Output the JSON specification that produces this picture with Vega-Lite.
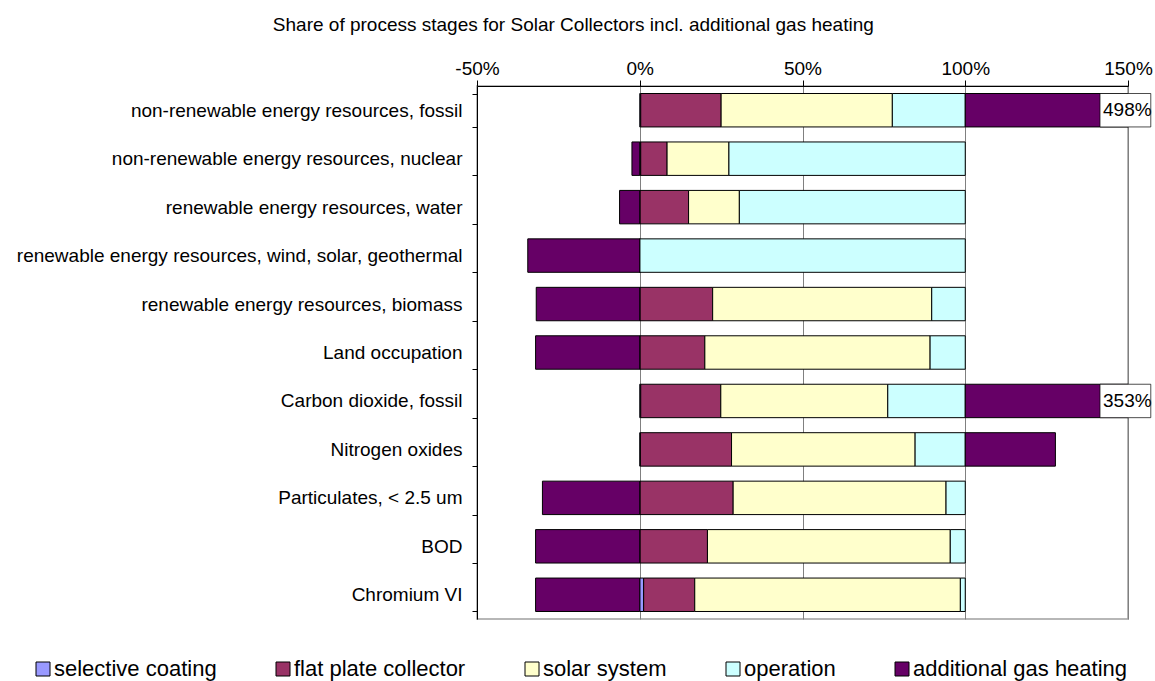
{
  "$schema": "https://vega.github.io/schema/vega-lite/v6.json",
  "autosize": "none",
  "width": 651,
  "height": 533,
  "padding": {"left": 477, "top": 86, "right": 27, "bottom": 62},
  "background": "white",
  "config": {
    "font": "Liberation Sans",
    "view": {"stroke": "#a0a0a0", "strokeWidth": 1.5}
  },
  "title": {
    "text": "Share of process stages for Solar Collectors incl. additional gas heating",
    "fontSize": 19,
    "fontWeight": "normal",
    "font": "Liberation Sans",
    "color": "black",
    "frame": "bounds",
    "anchor": "middle",
    "dx": -11,
    "offset": 24
  },
  "datasets": {
    "stages": [
      {"c": "non-renewable energy resources, fossil", "s": "selective coating", "i": 1, "v": 0.3},
      {"c": "non-renewable energy resources, fossil", "s": "flat plate collector", "i": 2, "v": 24.7},
      {"c": "non-renewable energy resources, fossil", "s": "solar system", "i": 3, "v": 52.6},
      {"c": "non-renewable energy resources, fossil", "s": "operation", "i": 4, "v": 22.4},
      {"c": "non-renewable energy resources, fossil", "s": "additional gas heating", "i": 5, "v": 498},
      {"c": "non-renewable energy resources, nuclear", "s": "selective coating", "i": 1, "v": 0.3},
      {"c": "non-renewable energy resources, nuclear", "s": "flat plate collector", "i": 2, "v": 8.1},
      {"c": "non-renewable energy resources, nuclear", "s": "solar system", "i": 3, "v": 19.0},
      {"c": "non-renewable energy resources, nuclear", "s": "operation", "i": 4, "v": 72.6},
      {"c": "non-renewable energy resources, nuclear", "s": "additional gas heating", "i": 5, "v": -2.4},
      {"c": "renewable energy resources, water", "s": "selective coating", "i": 1, "v": 0.1},
      {"c": "renewable energy resources, water", "s": "flat plate collector", "i": 2, "v": 14.9},
      {"c": "renewable energy resources, water", "s": "solar system", "i": 3, "v": 15.6},
      {"c": "renewable energy resources, water", "s": "operation", "i": 4, "v": 69.4},
      {"c": "renewable energy resources, water", "s": "additional gas heating", "i": 5, "v": -6.2},
      {"c": "renewable energy resources, wind, solar, geothermal", "s": "selective coating", "i": 1, "v": 0},
      {"c": "renewable energy resources, wind, solar, geothermal", "s": "flat plate collector", "i": 2, "v": 0},
      {"c": "renewable energy resources, wind, solar, geothermal", "s": "solar system", "i": 3, "v": 0},
      {"c": "renewable energy resources, wind, solar, geothermal", "s": "operation", "i": 4, "v": 100},
      {"c": "renewable energy resources, wind, solar, geothermal", "s": "additional gas heating", "i": 5, "v": -34.4},
      {"c": "renewable energy resources, biomass", "s": "selective coating", "i": 1, "v": 0.1},
      {"c": "renewable energy resources, biomass", "s": "flat plate collector", "i": 2, "v": 22.3},
      {"c": "renewable energy resources, biomass", "s": "solar system", "i": 3, "v": 67.3},
      {"c": "renewable energy resources, biomass", "s": "operation", "i": 4, "v": 10.3},
      {"c": "renewable energy resources, biomass", "s": "additional gas heating", "i": 5, "v": -31.8},
      {"c": "Land occupation", "s": "selective coating", "i": 1, "v": 0.1},
      {"c": "Land occupation", "s": "flat plate collector", "i": 2, "v": 19.9},
      {"c": "Land occupation", "s": "solar system", "i": 3, "v": 69.2},
      {"c": "Land occupation", "s": "operation", "i": 4, "v": 10.8},
      {"c": "Land occupation", "s": "additional gas heating", "i": 5, "v": -32.0},
      {"c": "Carbon dioxide, fossil", "s": "selective coating", "i": 1, "v": 0.3},
      {"c": "Carbon dioxide, fossil", "s": "flat plate collector", "i": 2, "v": 24.6},
      {"c": "Carbon dioxide, fossil", "s": "solar system", "i": 3, "v": 51.3},
      {"c": "Carbon dioxide, fossil", "s": "operation", "i": 4, "v": 23.8},
      {"c": "Carbon dioxide, fossil", "s": "additional gas heating", "i": 5, "v": 353},
      {"c": "Nitrogen oxides", "s": "selective coating", "i": 1, "v": 0.2},
      {"c": "Nitrogen oxides", "s": "flat plate collector", "i": 2, "v": 28.0},
      {"c": "Nitrogen oxides", "s": "solar system", "i": 3, "v": 56.4},
      {"c": "Nitrogen oxides", "s": "operation", "i": 4, "v": 15.4},
      {"c": "Nitrogen oxides", "s": "additional gas heating", "i": 5, "v": 27.7},
      {"c": "Particulates, < 2.5 um", "s": "selective coating", "i": 1, "v": 0.1},
      {"c": "Particulates, < 2.5 um", "s": "flat plate collector", "i": 2, "v": 28.6},
      {"c": "Particulates, < 2.5 um", "s": "solar system", "i": 3, "v": 65.4},
      {"c": "Particulates, < 2.5 um", "s": "operation", "i": 4, "v": 5.9},
      {"c": "Particulates, < 2.5 um", "s": "additional gas heating", "i": 5, "v": -29.9},
      {"c": "BOD", "s": "selective coating", "i": 1, "v": 0.1},
      {"c": "BOD", "s": "flat plate collector", "i": 2, "v": 20.7},
      {"c": "BOD", "s": "solar system", "i": 3, "v": 74.6},
      {"c": "BOD", "s": "operation", "i": 4, "v": 4.6},
      {"c": "BOD", "s": "additional gas heating", "i": 5, "v": -32.0},
      {"c": "Chromium VI", "s": "selective coating", "i": 1, "v": 1.2},
      {"c": "Chromium VI", "s": "flat plate collector", "i": 2, "v": 15.7},
      {"c": "Chromium VI", "s": "solar system", "i": 3, "v": 81.6},
      {"c": "Chromium VI", "s": "operation", "i": 4, "v": 1.5},
      {"c": "Chromium VI", "s": "additional gas heating", "i": 5, "v": -32.0}
    ],
    "labels": [
      {"c": "non-renewable energy resources, fossil", "t": "498%"},
      {"c": "Carbon dioxide, fossil", "t": "353%"}
    ]
  },
  "encoding": {
    "y": {
      "field": "c",
      "type": "nominal",
      "sort": [
        "non-renewable energy resources, fossil",
        "non-renewable energy resources, nuclear",
        "renewable energy resources, water",
        "renewable energy resources, wind, solar, geothermal",
        "renewable energy resources, biomass",
        "Land occupation",
        "Carbon dioxide, fossil",
        "Nitrogen oxides",
        "Particulates, < 2.5 um",
        "BOD",
        "Chromium VI"
      ],
      "scale": {"paddingInner": 0.31, "paddingOuter": 0.155},
      "axis": {
        "title": null,
        "orient": "left",
        "labelFontSize": 19,
        "labelFont": "Liberation Sans",
        "labelColor": "black",
        "labelPadding": 10,
        "labelLimit": 0,
        "tickSize": 5,
        "tickBand": "extent",
        "tickColor": "black",
        "domainColor": "black",
        "grid": false
      }
    }
  },
  "layer": [
    {
      "data": {"name": "stages"},
      "mark": {"type": "bar", "stroke": "black", "strokeWidth": 1, "clip": true},
      "encoding": {
        "x": {
          "field": "v",
          "type": "quantitative",
          "stack": "zero",
          "scale": {"domain": [-50, 150], "nice": false, "zero": false},
          "axis": {
            "orient": "top",
            "title": null,
            "values": [-50, 0, 50, 100, 150],
            "labelExpr": "datum.value + '%'",
            "labelFontSize": 19,
            "labelFont": "Liberation Sans",
            "labelColor": "black",
            "labelPadding": 2,
            "labelFlush": false,
            "labelOverlap": false,
            "tickSize": 6,
            "tickColor": "black",
            "domainColor": "black",
            "grid": true,
            "gridColor": "#808080",
            "gridWidth": 1
          }
        },
        "color": {
          "field": "s",
          "type": "nominal",
          "scale": {
            "domain": ["selective coating", "flat plate collector", "solar system", "operation", "additional gas heating"],
            "range": ["#9999FF", "#993366", "#FFFFCC", "#CCFFFF", "#660066"]
          },
          "legend": {
            "title": null,
            "orient": "none",
            "legendX": -445,
            "legendY": 572,
            "direction": "horizontal",
            "columns": 5,
            "columnPadding": 55,
            "symbolType": "square",
            "symbolSize": 196,
            "symbolStrokeColor": "black",
            "symbolStrokeWidth": 1,
            "symbolOpacity": 1,
            "labelFontSize": 22,
            "labelFont": "Liberation Sans",
            "labelColor": "black",
            "labelOffset": 0,
            "labelLimit": 0
          }
        },
        "order": {"field": "i", "type": "quantitative"}
      }
    },
    {
      "data": {"name": "labels"},
      "mark": {"type": "bar", "fill": "white", "stroke": "black", "strokeWidth": 0.7, "clip": false},
      "encoding": {
        "x": {"datum": 141.4},
        "x2": {"datum": 157}
      }
    },
    {
      "data": {"name": "labels"},
      "mark": {"type": "text", "align": "left", "baseline": "middle", "dx": 3, "fontSize": 19, "font": "Liberation Sans", "color": "black"},
      "encoding": {
        "x": {"datum": 141.4},
        "text": {"field": "t"}
      }
    }
  ]
}
